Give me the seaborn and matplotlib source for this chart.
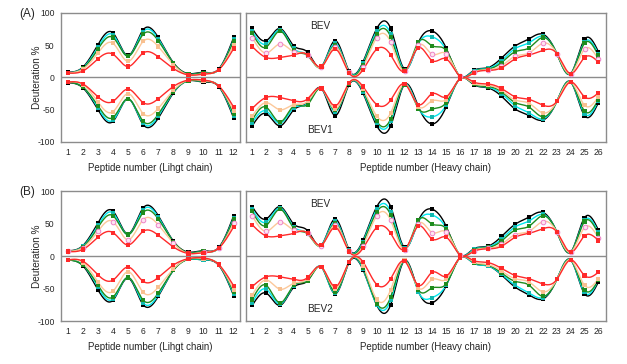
import numpy as np
import pandas as pd
import seaborn as sns
import matplotlib
matplotlib.use("Agg")
import matplotlib.pyplot as plt

# peptide numbers
light_pep = list(range(1, 13))
heavy_pep = list(range(1, 27))

series_names = ["black", "cyan", "green", "peach", "red"]
line_colors = ["#000000", "#00e8f0", "#1e8c1e", "#fcc89a", "#ff2a2a"]

# Light chain, BEV (upper curves)
light_bev_black = [8, 16, 51, 69, 34, 74, 62, 23, 6, 8, 13, 62]
light_bev_cyan = [7, 15, 47, 66, 33, 71, 60, 22, 5, 7, 12, 59]
light_bev_green = [7, 14, 44, 62, 33, 67, 57, 22, 5, 7, 12, 57]
light_bev_peach = [7, 13, 38, 53, 25, 56, 48, 20, 4, 6, 12, 51]
light_bev_red = [7, 10, 29, 36, 17, 38, 32, 14, 4, 5, 12, 45]

# Light chain, BEV1 (lower curves, panel A)
light_bev1_black = [-8, -16, -50, -68, -33, -73, -63, -24, -5, -7, -14, -63]
light_bev1_cyan = [-7, -15, -47, -66, -33, -71, -60, -23, -5, -6, -13, -60]
light_bev1_green = [-7, -15, -44, -62, -33, -68, -57, -22, -5, -6, -13, -57]
light_bev1_peach = [-7, -11, -38, -53, -25, -56, -48, -20, -4, -5, -13, -52]
light_bev1_red = [-7, -10, -30, -37, -18, -39, -33, -14, -4, -4, -13, -46]

# Light chain, BEV2 (lower curves, panel B)
light_bev2_black = [-6, -15, -52, -68, -34, -75, -62, -22, -5, -6, -14, -61]
light_bev2_cyan = [-6, -14, -48, -66, -33, -72, -60, -22, -5, -6, -13, -59]
light_bev2_green = [-6, -14, -45, -63, -33, -68, -57, -22, -5, -5, -13, -56]
light_bev2_peach = [-6, -10, -40, -54, -24, -56, -48, -20, -4, -4, -13, -52]
light_bev2_red = [-6, -8, -29, -37, -17, -39, -33, -14, -4, -3, -13, -46]

# Heavy chain, BEV (upper curves)
heavy_bev_black = [76, 57, 76, 49, 39, 17, 57, 10, 24, 76, 76, 13, 54, 72, 46, 2, 11, 15, 30, 49, 60, 67, 37, 6, 59, 40]
heavy_bev_cyan = [72, 52, 74, 45, 35, 17, 53, 9, 22, 72, 68, 12, 52, 63, 43, 2, 10, 14, 26, 45, 54, 64, 37, 6, 55, 37]
heavy_bev_green = [69, 47, 72, 43, 34, 16, 50, 8, 20, 68, 63, 11, 55, 49, 42, 2, 9, 13, 23, 40, 46, 62, 37, 6, 53, 34]
heavy_bev_peach = [62, 38, 52, 40, 35, 16, 48, 8, 16, 62, 55, 10, 50, 36, 37, 2, 8, 12, 18, 33, 38, 53, 37, 6, 44, 28]
heavy_bev_red = [48, 31, 31, 35, 35, 17, 44, 7, 12, 44, 35, 10, 46, 26, 29, 2, 7, 11, 15, 29, 35, 42, 37, 6, 31, 24]

# Heavy chain, BEV1
heavy_bev1_black = [-75, -56, -75, -50, -38, -17, -59, -11, -24, -75, -75, -11, -45, -72, -46, -2, -11, -16, -29, -49, -59, -66, -37, -7, -59, -39]
heavy_bev1_cyan = [-70, -52, -71, -47, -40, -17, -53, -10, -22, -71, -68, -11, -47, -61, -43, -2, -10, -15, -25, -44, -55, -64, -37, -7, -56, -36]
heavy_bev1_green = [-66, -46, -69, -44, -42, -17, -51, -10, -20, -68, -64, -11, -48, -49, -39, -2, -10, -14, -22, -39, -46, -61, -37, -7, -52, -34]
heavy_bev1_peach = [-60, -39, -50, -42, -37, -17, -49, -9, -18, -60, -55, -10, -45, -36, -34, -2, -9, -12, -20, -35, -40, -55, -37, -7, -43, -30]
heavy_bev1_red = [-48, -31, -31, -36, -33, -17, -44, -8, -14, -42, -35, -10, -42, -25, -30, -2, -7, -10, -17, -30, -34, -43, -37, -7, -30, -24]

# Heavy chain, BEV2
heavy_bev2_black = [-76, -57, -76, -48, -38, -17, -58, -10, -21, -76, -75, -7, -54, -72, -46, -3, -11, -15, -29, -48, -60, -66, -36, -6, -58, -40]
heavy_bev2_cyan = [-72, -51, -74, -46, -36, -17, -57, -9, -20, -75, -68, -7, -55, -64, -45, -3, -11, -15, -28, -45, -57, -64, -36, -6, -56, -37]
heavy_bev2_green = [-67, -45, -72, -45, -38, -17, -55, -9, -18, -73, -63, -7, -52, -49, -43, -3, -10, -14, -26, -39, -45, -62, -36, -6, -52, -37]
heavy_bev2_peach = [-60, -37, -51, -42, -35, -17, -50, -9, -15, -67, -52, -7, -49, -36, -36, -3, -9, -13, -23, -35, -40, -55, -36, -6, -45, -35]
heavy_bev2_red = [-47, -32, -32, -36, -33, -17, -47, -9, -9, -44, -35, -8, -45, -25, -31, -3, -7, -10, -19, -30, -35, -43, -36, -6, -30, -25]

light_bev = [light_bev_black, light_bev_cyan, light_bev_green, light_bev_peach, light_bev_red]
light_bev1 = [light_bev1_black, light_bev1_cyan, light_bev1_green, light_bev1_peach, light_bev1_red]
light_bev2 = [light_bev2_black, light_bev2_cyan, light_bev2_green, light_bev2_peach, light_bev2_red]
heavy_bev = [heavy_bev_black, heavy_bev_cyan, heavy_bev_green, heavy_bev_peach, heavy_bev_red]
heavy_bev1 = [heavy_bev1_black, heavy_bev1_cyan, heavy_bev1_green, heavy_bev1_peach, heavy_bev1_red]
heavy_bev2 = [heavy_bev2_black, heavy_bev2_cyan, heavy_bev2_green, heavy_bev2_peach, heavy_bev2_red]


def smooth(x, y, n=24):
    # natural cubic spline through the points, for drawing only
    x = np.asarray(x, float)
    y = np.asarray(y, float)
    k = len(x)
    h = np.diff(x)
    A = np.zeros((k, k))
    b = np.zeros(k)
    A[0, 0] = A[-1, -1] = 1
    for i in range(1, k - 1):
        A[i, i - 1] = h[i - 1]
        A[i, i] = 2 * (h[i - 1] + h[i])
        A[i, i + 1] = h[i]
        b[i] = 6 * ((y[i + 1] - y[i]) / h[i] - (y[i] - y[i - 1]) / h[i - 1])
    M = np.linalg.solve(A, b)
    xs, ys = [], []
    for i in range(k - 1):
        t = np.linspace(x[i], x[i + 1], n, endpoint=False)
        a = x[i + 1] - t
        c = t - x[i]
        s = (M[i] * a ** 3 + M[i + 1] * c ** 3) / (6 * h[i]) \
            + (y[i] / h[i] - M[i] * h[i] / 6) * a \
            + (y[i + 1] / h[i] - M[i + 1] * h[i] / 6) * c
        xs.extend(t)
        ys.extend(s)
    xs.append(x[-1])
    ys.append(y[-1])
    return np.array(xs), np.array(ys)


def draw_group(ax, pep, group, pink_peach):
    for name, col, vals in zip(series_names, line_colors, group):
        xs, ys = smooth(pep, vals)
        sns.lineplot(x=xs, y=ys, color=col, lw=1.0, ax=ax, sort=False,
                     estimator=None, zorder=2)
        if name == "peach" and pink_peach:
            sns.scatterplot(x=pep, y=vals, marker="o", s=11, color="#fde4f0",
                            edgecolor="#ee82c8", linewidth=0.7, ax=ax, zorder=3)
        else:
            mcol = "#f8c090" if name == "peach" else col
            if name == "cyan":
                mcol = "#10b8b0"
            sns.scatterplot(x=pep, y=vals, marker="s", s=9, color=mcol,
                            edgecolor="none", ax=ax, zorder=3)


def style_axis(ax, pep, xmax, left, xlabel):
    ax.set_xlim(0.55, xmax)
    ax.set_ylim(-100, 100)
    ax.axhline(0, color="#8c8c8c", lw=1.0, zorder=1)
    ax.set_xticks(pep)
    ax.set_xticklabels([str(p) for p in pep], fontsize=6.2)
    ax.set_xlabel(xlabel, fontsize=7.0, labelpad=4)
    ax.tick_params(axis="x", length=2.5, width=0.6, color="#777777", pad=2)
    if left:
        ax.set_yticks([-100, -50, 0, 50, 100])
        ax.set_yticklabels(["-100", "-50", "0", "50", "100"], fontsize=6.2)
        ax.tick_params(axis="y", length=2.5, width=0.6, color="#777777", pad=2)
        ax.set_ylabel("Deuteration %", fontsize=7.2)
        ax.yaxis.set_label_coords(-0.105, 0.5)
    else:
        ax.set_yticks([])
        ax.set_ylabel("")
    for sp in ax.spines.values():
        sp.set_color("#8c8c8c")
        sp.set_linewidth(1.0)


sns.set_theme(style="white")
plt.rcParams["font.family"] = ["Liberation Sans", "DejaVu Sans"]

fig = plt.figure(figsize=(6.27, 3.64), dpi=100)

panel_rows = [
    ("(A)", 0.6099, 0.3544, light_bev1, heavy_bev1, "BEV1", False),
    ("(B)", 0.1181, 0.3571, light_bev2, heavy_bev2, "BEV2", True),
]

for tag, bottom, height, light_low, heavy_low, low_name, pink_left in panel_rows:
    ax_l = fig.add_axes([0.0973, bottom, 0.2855, height])
    ax_r = fig.add_axes([0.3923, bottom, 0.5742, height])

    draw_group(ax_l, light_pep, light_bev, pink_left)
    draw_group(ax_l, light_pep, light_low, False)
    style_axis(ax_l, light_pep, 12.42, True, "Peptide number (Lihgt chain)")

    draw_group(ax_r, heavy_pep, heavy_bev, True)
    draw_group(ax_r, heavy_pep, heavy_low, False)
    style_axis(ax_r, heavy_pep, 26.55, False, "Peptide number (Heavy chain)")

    ax_r.text(5.9, 80, "BEV", fontsize=7.2, ha="center", va="center")
    ax_r.text(5.9, -82, low_name, fontsize=7.2, ha="center", va="center")

    fig.text(0.030, bottom + height - 0.003, tag, fontsize=8.5, ha="left", va="center")

fig.savefig("out.png", dpi=100)
